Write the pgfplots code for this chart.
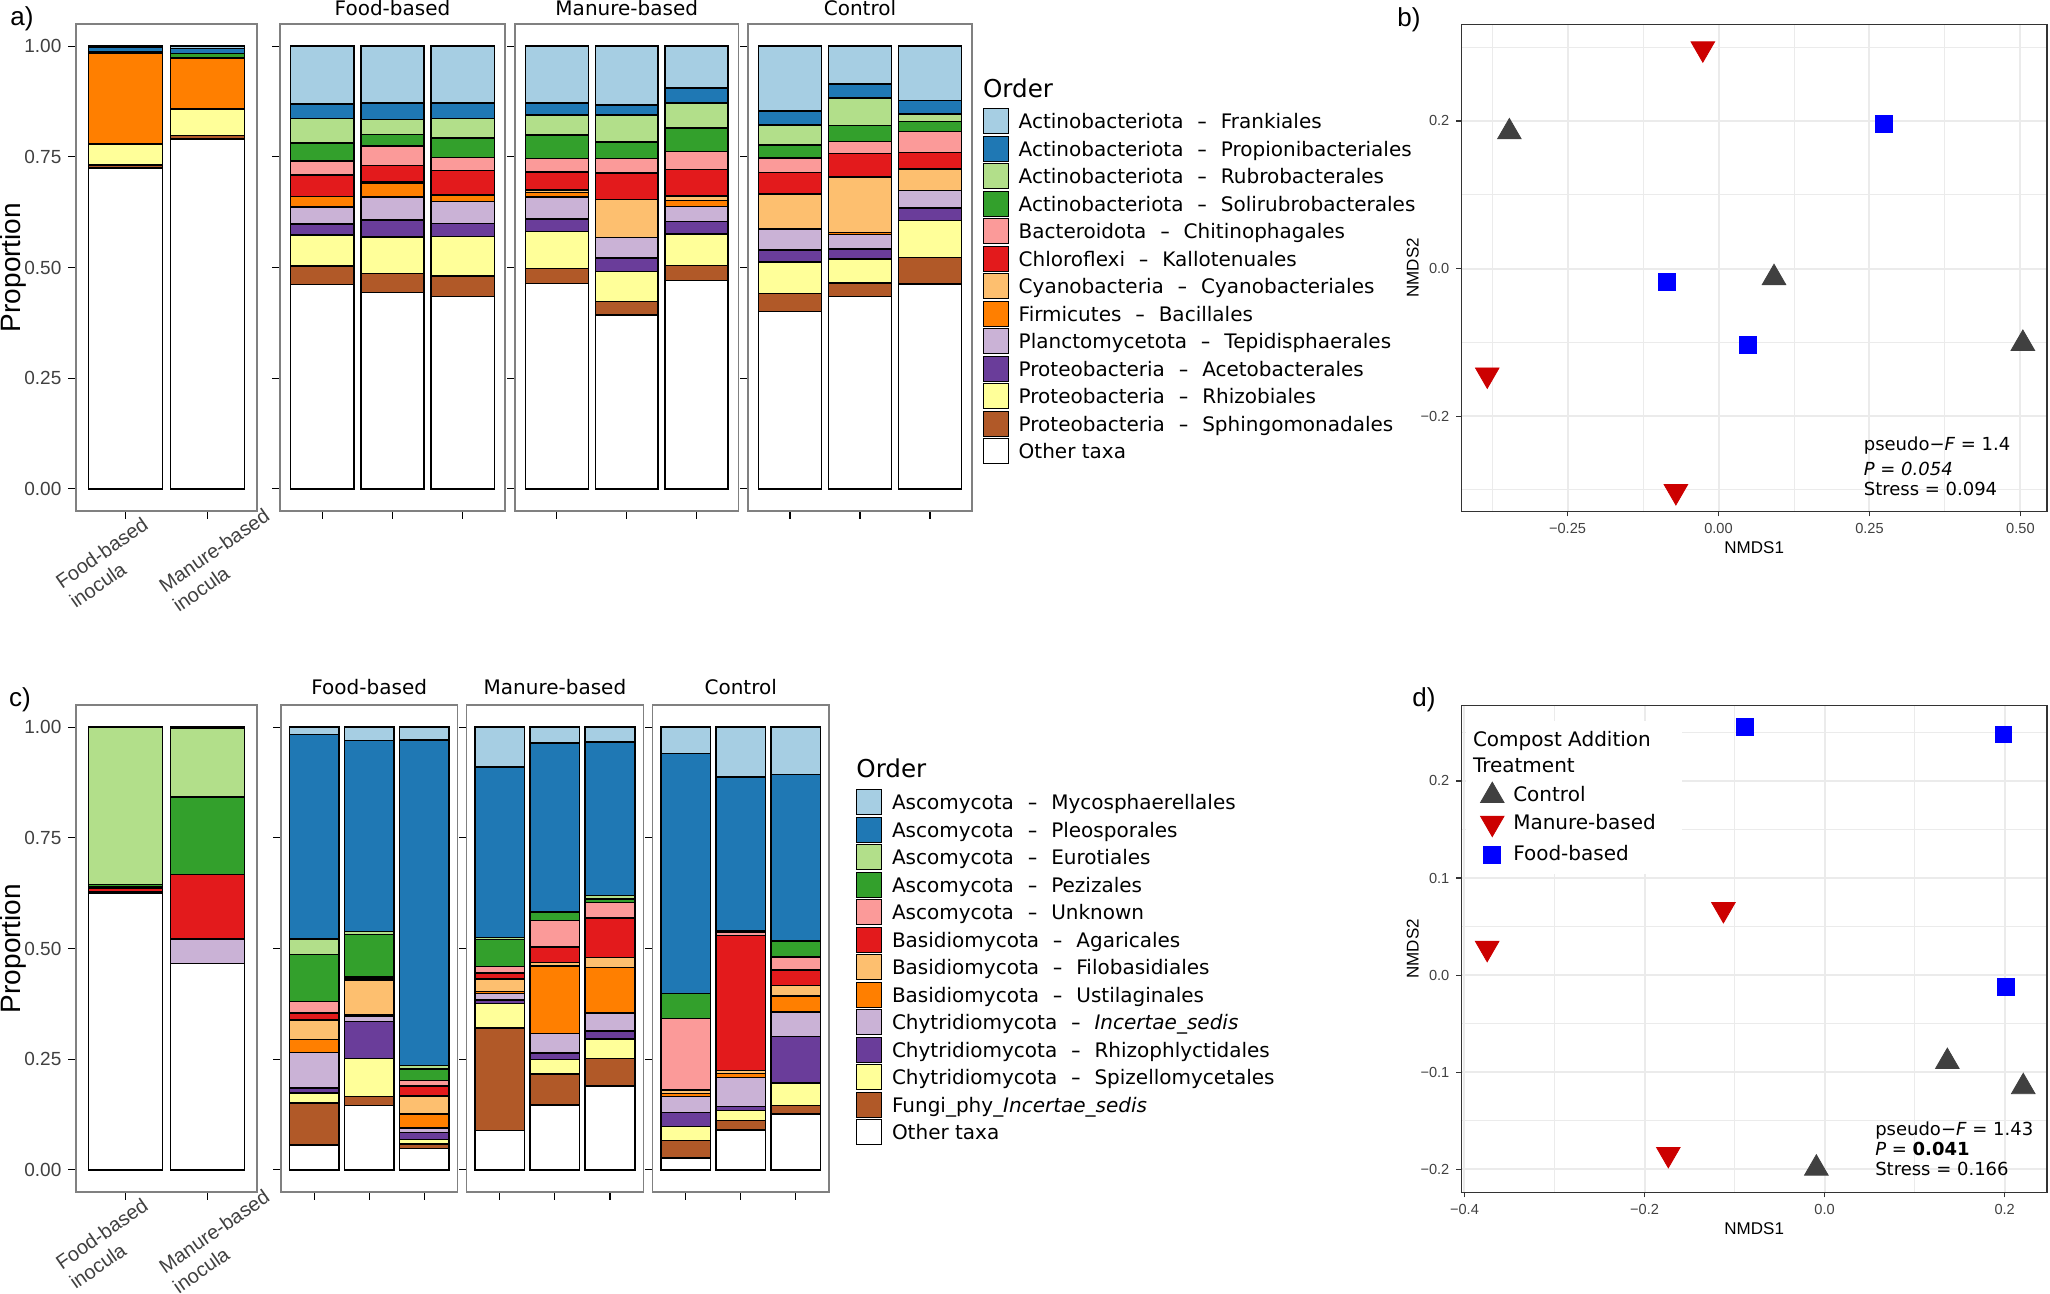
\documentclass[border=0pt]{standalone}
\usepackage{fontspec}
\setmainfont{DejaVu Sans}
\newfontfamily\arial{Liberation Sans}
\usepackage{pgfplots}
\usepackage{pgfplotstable}
\pgfplotsset{compat=1.18}

\definecolor{P1}{HTML}{A6CEE3}
\definecolor{P2}{HTML}{1F78B4}
\definecolor{P3}{HTML}{B2DF8A}
\definecolor{P4}{HTML}{33A02C}
\definecolor{P5}{HTML}{FB9A99}
\definecolor{P6}{HTML}{E31A1C}
\definecolor{P7}{HTML}{FDBF6F}
\definecolor{P8}{HTML}{FF7F00}
\definecolor{P9}{HTML}{CAB2D6}
\definecolor{P10}{HTML}{6A3D9A}
\definecolor{P11}{HTML}{FFFF99}
\definecolor{P12}{HTML}{B15928}
\definecolor{ctrlc}{HTML}{404040}
\definecolor{manc}{HTML}{CC0000}
\definecolor{foodc}{HTML}{0000FF}

\newcommand{\dsh}{\hspace{0.68em}\scalebox{1.4}[1.0]{-}\hspace{0.68em}}

% ---------------- bacteria ----------------
\pgfplotstableread{
x Fra Pro Rub Sol Chi Kal Cya Bac Tep Ace Rhi Sph Oth
1 0.003 0.010 0 0.003 0 0 0 0.205 0 0 0.047 0.007 0.725
2 0.005 0.012 0 0.010 0 0 0 0.115 0 0 0.060 0.008 0.790
}\bacInoc
\pgfplotstableread{
x Fra Pro Rub Sol Chi Kal Cya Bac Tep Ace Rhi Sph Oth
1 0.131 0.032 0.056 0.040 0.032 0.049 0 0.023 0.039 0.025 0.070 0.041 0.462
2 0.128 0.038 0.034 0.026 0.044 0.036 0.003 0.032 0.052 0.038 0.083 0.043 0.443
3 0.129 0.034 0.045 0.043 0.030 0.055 0 0.015 0.050 0.029 0.089 0.047 0.434
}\bacFood
\pgfplotstableread{
x Fra Pro Rub Sol Chi Kal Cya Bac Tep Ace Rhi Sph Oth
1 0.128 0.028 0.045 0.053 0.030 0.041 0.006 0.010 0.049 0.029 0.083 0.034 0.464
2 0.133 0.023 0.060 0.038 0.032 0.060 0.086 0 0.047 0.030 0.068 0.030 0.393
3 0.095 0.034 0.056 0.053 0.041 0.059 0.011 0.013 0.034 0.028 0.072 0.033 0.471
}\bacMan
\pgfplotstableread{
x Fra Pro Rub Sol Chi Kal Cya Bac Tep Ace Rhi Sph Oth
1 0.146 0.032 0.045 0.030 0.032 0.049 0.079 0 0.047 0.028 0.071 0.040 0.401
2 0.086 0.031 0.062 0.036 0.028 0.053 0.125 0.005 0.032 0.023 0.054 0.031 0.434
3 0.123 0.030 0.017 0.023 0.047 0.038 0.048 0 0.040 0.028 0.083 0.060 0.463
}\bacCtrl

% ---------------- fungi ----------------
\pgfplotstableread{
x Myc Ple Eur Pez Unk Aga Fil Ust ChI Rhz Spi Fph Oth
1 0 0 0.355 0.006 0.003 0.008 0 0 0 0 0 0.003 0.625
2 0 0.003 0.155 0.175 0 0.145 0 0 0.056 0 0 0 0.466
}\funInoc
\pgfplotstableread{
x Myc Ple Eur Pez Unk Aga Fil Ust ChI Rhz Spi Fph Oth
1 0.017 0.461 0.035 0.107 0.026 0.015 0.045 0.029 0.080 0.011 0.023 0.095 0.056
2 0.030 0.432 0.006 0.096 0.004 0.003 0.079 0.004 0.011 0.084 0.085 0.021 0.145
3 0.029 0.735 0.008 0.026 0.012 0.023 0.041 0.031 0.011 0.015 0.011 0.010 0.048
}\funFood
\pgfplotstableread{
x Myc Ple Eur Pez Unk Aga Fil Ust ChI Rhz Spi Fph Oth
1 0.090 0.385 0.005 0.061 0.014 0.014 0.028 0.005 0.014 0.008 0.056 0.231 0.089
2 0.036 0.381 0 0.020 0.060 0.035 0.008 0.152 0.044 0.015 0.032 0.071 0.146
3 0.034 0.346 0.008 0.008 0.035 0.089 0.023 0.103 0.040 0.018 0.045 0.062 0.189
}\funMan
\pgfplotstableread{
x Myc Ple Eur Pez Unk Aga Fil Ust ChI Rhz Spi Fph Oth
1 0.060 0.542 0 0.056 0.162 0 0.008 0.006 0.036 0.032 0.032 0.039 0.027
2 0.113 0.348 0.003 0 0.007 0.304 0.007 0.009 0.066 0.009 0.023 0.021 0.090
3 0.107 0.376 0 0.036 0.029 0.036 0.023 0.036 0.056 0.105 0.051 0.019 0.126
}\funCtrl

\newcommand{\bacplots}[1]{%
\addplot[fill=white] table[x=x,y=Oth]{#1};
\addplot[fill=P12] table[x=x,y=Sph]{#1};
\addplot[fill=P11] table[x=x,y=Rhi]{#1};
\addplot[fill=P10] table[x=x,y=Ace]{#1};
\addplot[fill=P9] table[x=x,y=Tep]{#1};
\addplot[fill=P8] table[x=x,y=Bac]{#1};
\addplot[fill=P7] table[x=x,y=Cya]{#1};
\addplot[fill=P6] table[x=x,y=Kal]{#1};
\addplot[fill=P5] table[x=x,y=Chi]{#1};
\addplot[fill=P4] table[x=x,y=Sol]{#1};
\addplot[fill=P3] table[x=x,y=Rub]{#1};
\addplot[fill=P2] table[x=x,y=Pro]{#1};
\addplot[fill=P1] table[x=x,y=Fra]{#1};
}
\newcommand{\funplots}[1]{%
\addplot[fill=white] table[x=x,y=Oth]{#1};
\addplot[fill=P12] table[x=x,y=Fph]{#1};
\addplot[fill=P11] table[x=x,y=Spi]{#1};
\addplot[fill=P10] table[x=x,y=Rhz]{#1};
\addplot[fill=P9] table[x=x,y=ChI]{#1};
\addplot[fill=P8] table[x=x,y=Ust]{#1};
\addplot[fill=P7] table[x=x,y=Fil]{#1};
\addplot[fill=P6] table[x=x,y=Aga]{#1};
\addplot[fill=P5] table[x=x,y=Unk]{#1};
\addplot[fill=P4] table[x=x,y=Pez]{#1};
\addplot[fill=P3] table[x=x,y=Eur]{#1};
\addplot[fill=P2] table[x=x,y=Ple]{#1};
\addplot[fill=P1] table[x=x,y=Myc]{#1};
}
\tikzset{inoclab/.style={rotate=35, anchor=base west, inner sep=0pt, font=\arial\fontsize{10}{12}\selectfont, text=black!75}}
\newcommand{\inoclabels}{%
\node[inoclab] at (axis cs:0.226,-0.2273) {Food-based};
\node[inoclab] at (axis cs:0.394,-0.2718) {inocula};
\node[inoclab] at (axis cs:1.482,-0.2364) {Manure-based};
\node[inoclab] at (axis cs:1.650,-0.2809) {inocula};
}

\pgfplotsset{
  barbase/.style={
    scale only axis, ybar stacked, bar width=0.9,
    enlargelimits=false, clip=false,
    ymin=-0.05, ymax=1.05, ytick={0,0.25,0.5,0.75,1}, yticklabels={},
    xtick pos=bottom, ytick pos=left, tick align=outside,
    major tick length=3.8pt, tick style={black, line width=0.55pt},
    axis line style={draw=black!50, line width=0.6pt},
    every axis plot/.append style={draw=black, line width=0.75pt},
    ticklabel style={font=\arial\fontsize{9.5}{11}\selectfont, text=black!75},
    title style={font=\fontsize{10}{12}\selectfont, anchor=base, yshift=-2pt, inner sep=0pt},
    every axis plot post/.append style={legend image code/.code={\draw[##1,draw=black,line width=0.5pt] (0pt,-5.35pt) rectangle (12.5pt,7.15pt);}},
  },
  inocax/.style={barbase, width=90.5pt, height=243.5pt, xmin=0.4, xmax=2.6, xtick={1,2},
    xticklabels={},
    yticklabels={0.00,0.25,0.50,0.75,1.00},
    ylabel={Proportion}, ylabel style={at={(rel axis cs:-0.348,0.5)}, anchor=center, rotate=0, font=\arial\fontsize{14}{16}\selectfont, text=black}},
  facetax/.style={barbase, height=243.5pt, xmin=0.4, xmax=3.6, xtick={1,2,3}, xticklabels={}},
  barlegend/.style={reverse legend, legend cell align=left,
    legend style={at={(rel axis cs:#1,0.8275)}, anchor=north west, draw=none, fill=none, inner sep=0pt, outer sep=0pt,
      row sep=0.75pt, font=\fontsize{10}{12}\selectfont, nodes={inner sep=0pt},
      /tikz/every odd column/.append style={column sep=5pt}}},
  nmds/.style={scale only axis, width=292.8pt, height=243.5pt,
    axis line style={draw=black!80, line width=0.6pt},
    grid=both, major grid style={draw=black!8, line width=1pt}, minor grid style={draw=black!8, line width=0.5pt},
    minor tick length=0pt, major tick length=2.5pt, tick align=outside, tick style={black!80, line width=0.6pt},
    xtick pos=bottom, ytick pos=left,
    ticklabel style={font=\arial\fontsize{7.3}{8}\selectfont, text=black!75},
    label style={font=\arial\fontsize{8.5}{10}\selectfont},
    ylabel style={yshift=-6pt}, xlabel style={yshift=3pt}},
  ctrlmk/.style={only marks, mark=triangle*, mark size=6.8pt, color=ctrlc},
  manmk/.style={only marks, mark=triangle*, mark size=6.8pt, mark options={rotate=180}, color=manc},
  foodmk/.style={only marks, mark=square*, mark size=4.2pt, color=foodc},
}

\begin{document}
\begin{tikzpicture}
\useasboundingbox (0,0) rectangle (1025pt,-647pt);

% ================= panel a =================
\begin{axis}[inocax, at={(38pt,-12pt)}, anchor=north west]
\bacplots{\bacInoc}
\inoclabels
\end{axis}
\begin{axis}[facetax, at={(140pt,-12pt)}, anchor=north west, width=112.5pt, title={Food-based}]
\bacplots{\bacFood}
\end{axis}
\begin{axis}[facetax, at={(257.5pt,-12pt)}, anchor=north west, width=111.75pt, title={Manure-based}]
\bacplots{\bacMan}
\end{axis}
\begin{axis}[facetax, at={(374pt,-12pt)}, anchor=north west, width=112pt, title={Control},
  barlegend=1.0478,
  legend entries={Other taxa, Proteobacteria\dsh Sphingomonadales, Proteobacteria\dsh Rhizobiales,
    Proteobacteria\dsh Acetobacterales, Planctomycetota\dsh Tepidisphaerales, Firmicutes\dsh Bacillales,
    Cyanobacteria\dsh Cyanobacteriales, Chloroflexi\dsh Kallotenuales, Bacteroidota\dsh Chitinophagales,
    Actinobacteriota\dsh Solirubrobacterales, Actinobacteriota\dsh Rubrobacterales,
    Actinobacteriota\dsh Propionibacteriales, Actinobacteriota\dsh Frankiales}]
\bacplots{\bacCtrl}
\node[anchor=west, inner sep=0pt, font=\fontsize{12.3}{14}\selectfont] at (rel axis cs:1.0478,0.8686) {Order};
\end{axis}

% ================= panel c =================
\begin{axis}[inocax, at={(38pt,-352.5pt)}, anchor=north west]
\funplots{\funInoc}
\inoclabels
\end{axis}
\begin{axis}[facetax, at={(140.5pt,-352.5pt)}, anchor=north west, width=88.2pt, title={Food-based}, title style={yshift=1.5pt}]
\funplots{\funFood}
\end{axis}
\begin{axis}[facetax, at={(233.35pt,-352.5pt)}, anchor=north west, width=88.2pt, title={Manure-based}, title style={yshift=1.5pt}]
\funplots{\funMan}
\end{axis}
\begin{axis}[facetax, at={(326.25pt,-352.5pt)}, anchor=north west, width=88.2pt, title={Control}, title style={yshift=1.5pt},
  barlegend=1.1536,
  legend entries={Other taxa, Fungi\_phy\_\textit{Incertae\_sedis}, Chytridiomycota\dsh Spizellomycetales,
    Chytridiomycota\dsh Rhizophlyctidales, Chytridiomycota\dsh\textit{Incertae\_sedis},
    Basidiomycota\dsh Ustilaginales, Basidiomycota\dsh Filobasidiales, Basidiomycota\dsh Agaricales,
    Ascomycota\dsh Unknown, Ascomycota\dsh Pezizales, Ascomycota\dsh Eurotiales,
    Ascomycota\dsh Pleosporales, Ascomycota\dsh Mycosphaerellales}]
\funplots{\funCtrl}
\node[anchor=west, inner sep=0pt, font=\fontsize{12.3}{14}\selectfont] at (rel axis cs:1.1536,0.8706) {Order};
\end{axis}

% ================= panel b =================
\begin{axis}[nmds, at={(730.7pt,-12.15pt)}, anchor=north west,
  xmin=-0.4258, xmax=0.544, ymin=-0.329, ymax=0.331,
  xtick={-0.25,0,0.25,0.5}, xticklabels={−0.25,0.00,0.25,0.50},
  ytick={-0.2,0,0.2}, yticklabels={−0.2,0.0,0.2},
  minor xtick={-0.375,-0.125,0.125,0.375}, minor ytick={-0.3,-0.1,0.1,0.3},
  xlabel={NMDS1}, ylabel={NMDS2}]
\addplot[ctrlmk] coordinates {(-0.3464,0.185) (0.0919,-0.0126) (0.504,-0.1017)};
\addplot[manmk] coordinates {(-0.026,0.298) (-0.383,-0.144) (-0.0706,-0.302)};
\addplot[foodmk] coordinates {(0.2737,0.196) (-0.0857,-0.0184) (0.048,-0.1036)};
\node[anchor=west, inner sep=0pt, font=\fontsize{9}{10}\selectfont] at (axis cs:0.24,-0.240) {pseudo−\textit{F} = 1.4};
\node[anchor=west, inner sep=0pt, font=\fontsize{9}{10}\selectfont] at (axis cs:0.24,-0.271) {\textit{P = 0.054}};
\node[anchor=west, inner sep=0pt, font=\fontsize{9}{10}\selectfont] at (axis cs:0.24,-0.299) {Stress = 0.094};
\end{axis}

% ================= panel d =================
\begin{axis}[nmds, at={(730.7pt,-352.6pt)}, anchor=north west, height=243.6pt,
  xmin=-0.4034, xmax=0.247, ymin=-0.2237, ymax=0.278,
  xtick={-0.4,-0.2,0,0.2}, xticklabels={−0.4,−0.2,0.0,0.2},
  ytick={-0.2,-0.1,0,0.1,0.2}, yticklabels={−0.2,−0.1,0.0,0.1,0.2},
  minor xtick={-0.3,-0.1,0.1}, minor ytick={-0.15,-0.05,0.05,0.15,0.25},
  xlabel={NMDS1}, ylabel={NMDS2},
  legend cell align=left,
  legend style={at={(rel axis cs:0.0326,0.8420)}, anchor=north west, draw=none, fill=none, inner sep=0pt, outer sep=0pt,
    row sep=4.5pt, font=\fontsize{10}{12}\selectfont, nodes={inner sep=0pt},
    /tikz/every odd column/.append style={column sep=4.6pt}}]
\fill[white] (rel axis cs:0.0079,0.9676) rectangle (rel axis cs:0.3768,0.6536);
\node[anchor=base west, inner sep=0pt, font=\fontsize{10}{12}\selectfont] at (rel axis cs:0.0191,0.9152) {Compost Addition};
\node[anchor=base west, inner sep=0pt, font=\fontsize{10}{12}\selectfont] at (rel axis cs:0.0191,0.8618) {Treatment};
\addplot[ctrlmk] coordinates {(0.1363,-0.0891) (0.2206,-0.1150) (-0.0092,-0.1989)};
\addlegendentry{Control}
\addplot[manmk] coordinates {(-0.1124,0.0678) (-0.3748,0.0278) (-0.1736,-0.1844)};
\addlegendentry{Manure-based}
\addplot[foodmk] coordinates {(-0.0884,0.2556) (0.1985,0.248) (0.2012,-0.0122)};
\addlegendentry{Food-based}
\node[anchor=west, inner sep=0pt, font=\fontsize{9}{10}\selectfont] at (axis cs:0.0558,-0.160) {pseudo−\textit{F} = 1.43};
\node[anchor=west, inner sep=0pt, font=\fontsize{9}{10}\selectfont] at (axis cs:0.0558,-0.179) {\textit{P} = \textbf{0.041}};
\node[anchor=west, inner sep=0pt, font=\fontsize{9}{10}\selectfont] at (axis cs:0.0558,-0.200) {Stress = 0.166};
\end{axis}

% panel labels
\node[font=\arial\fontsize{13}{15}\selectfont] at (11pt,-9.5pt) {a)};
\node[font=\arial\fontsize{13}{15}\selectfont] at (704.5pt,-10pt) {b)};
\node[font=\arial\fontsize{13}{15}\selectfont] at (10pt,-350pt) {c)};
\node[font=\arial\fontsize{13}{15}\selectfont] at (712pt,-350pt) {d)};
\end{tikzpicture}
\end{document}
